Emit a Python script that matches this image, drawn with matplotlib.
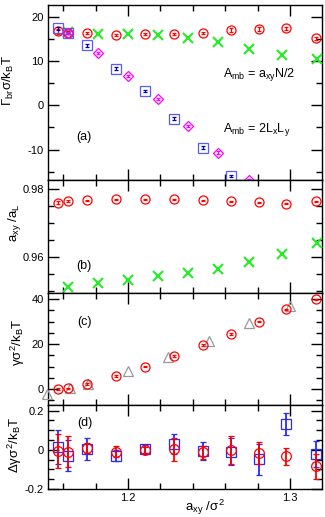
import numpy as np
import matplotlib
matplotlib.use("Agg")
import matplotlib.pyplot as plt
from matplotlib.ticker import MultipleLocator

plt.rcParams['font.family'] = ['Liberation Sans', 'DejaVu Sans']
plt.rcParams['mathtext.fontset'] = 'custom'
plt.rcParams['mathtext.rm'] = 'Liberation Sans'
plt.rcParams['mathtext.it'] = 'Liberation Sans'
plt.rcParams['mathtext.bf'] = 'Liberation Sans:bold'
plt.rcParams['axes.unicode_minus'] = False

# --- data ---
x_a = [1.1568, 1.1630, 1.1747, 1.1926, 1.2105, 1.2284, 1.2463, 1.2636, 1.2809, 1.2975, 1.3160]
x_b = [1.1630, 1.1815, 1.2000, 1.2185, 1.2370, 1.2556, 1.2750, 1.2951, 1.3167]
x_tri = [1.1498, 1.1642, 1.1755, 1.2000, 1.2249, 1.2502, 1.2749, 1.3000]

# (a) surface tension Gamma_br
gam_red = [16.75, 16.45, 16.45, 16.0, 16.2, 16.2, 16.4, 17.1, 17.2, 17.4, 15.2]
gam_red_err = [0.5, 0.3, 0.25, 0.25, 0.25, 0.25, 0.3, 0.45, 0.45, 0.4, 0.35]
gam_green = [16.5, 16.2, 16.1, 15.9, 15.2, 14.3, 12.75, 11.3, 10.4]
gam_blue = [17.4, 16.4, 13.6, 8.3, 3.25, -3.0, -9.55, -16.0]
gam_blue_err = [0.3, 0.3, 0.3, 0.3, 0.3, 0.3, 0.3, 0.3]
gam_mag = [16.4, 11.85, 6.6, 1.4, -4.7, -10.7, -16.9]
gam_mag_err = [0.3, 0.3, 0.3, 0.3, 0.3, 0.3, 0.3]

# (b) a_xy / a_L
ratio_red = [0.97596, 0.97645, 0.97665, 0.97695, 0.97704, 0.97704, 0.97675, 0.97645, 0.97616, 0.97567, 0.97645]
ratio_red_err = [0.0004, 0.0002, 0.00012, 0.00012, 0.00012, 0.00012, 0.00012, 0.00012, 0.00012, 0.00012, 0.00012]
ratio_green = [0.95113, 0.95212, 0.95310, 0.95429, 0.95527, 0.95645, 0.95833, 0.96079, 0.96394]

# (c) gamma
g_red = [0.0, 0.3, 2.2, 5.8, 9.9, 14.7, 19.6, 24.4, 29.9, 35.4, 39.9]
g_red_err = [0.3, 0.3, 0.3, 0.3, 0.3, 0.3, 0.3, 0.3, 0.3, 0.3, 0.3]
g_grey = [-2.4, 0.6, 2.4, 8.1, 14.1, 21.2, 29.2, 36.9]

# (d) Delta gamma
dg_red = [-0.005, -0.009, 0.009, -0.009, 0.0, 0.003, -0.012, 0.0, -0.017, -0.034, -0.085]
dg_red_err = [0.088, 0.079, 0.026, 0.03, 0.017, 0.06, 0.034, 0.07, 0.055, 0.045, 0.066]
dg_blue = [0.014, -0.029, 0.003, -0.029, 0.003, 0.029, -0.005, -0.009, -0.048, 0.132, -0.022]
dg_blue_err = [0.085, 0.079, 0.055, 0.03, 0.02, 0.05, 0.045, 0.07, 0.08, 0.056, 0.067]

RED = '#ff0000'
BLUE = '#2a2aff'
GREEN = '#22ee22'
MAG = '#ff00ff'
GREY = '#999999'

fig = plt.figure(figsize=(3.25, 5.17), dpi=100)
L, R = 48 / 325, 322 / 325
edges = [5, 180, 292.7, 405, 489]
axes = []
for i in range(4):
    top = 1 - edges[i] / 517
    bot = 1 - edges[i + 1] / 517
    axes.append(fig.add_axes([L, bot, R - L, top - bot]))
axA, axB, axC, axD = axes

for ax in axes:
    ax.set_xlim(1.1506, 1.3198)
    ax.xaxis.set_major_locator(MultipleLocator(0.1))
    ax.xaxis.set_minor_locator(MultipleLocator(0.02))
    ax.tick_params(which='both', direction='in', top=True, right=True,
                   labelsize=8, width=1.0, pad=3)
    ax.tick_params(which='major', length=8)
    ax.tick_params(which='minor', length=4.5)
    for s in ax.spines.values():
        s.set_linewidth(1.0)
    if ax is not axD:
        ax.tick_params(labelbottom=False)

ms = 6.5
kw_o = dict(fmt='o', mfc='none', ms=ms, mew=0.9, elinewidth=0.9, capsize=1.5, capthick=0.9)

# (a)
axA.plot(x_b, gam_green, 'x', color=GREEN, ms=7.5, mew=1.5, clip_on=False, zorder=3)
axA.errorbar(x_a, gam_red, yerr=gam_red_err, color=RED, mec=RED, clip_on=False, zorder=4, **kw_o)
axA.errorbar(x_a[:8], gam_blue, yerr=gam_blue_err, fmt='s', mfc='none', mec='#5a5aff', color='#0000cc',
             ms=ms, mew=0.9, elinewidth=0.9, capsize=1.5, clip_on=False, zorder=5)
axA.errorbar(x_b[:7], gam_mag, yerr=gam_mag_err, fmt='D', mfc='none', mec=MAG, color=MAG,
             ms=4.8, mew=0.9, elinewidth=0.9, capsize=1.5, clip_on=False, zorder=5)
axA.set_ylim(-16.9, 22.7)
axA.yaxis.set_major_locator(MultipleLocator(10))
axA.yaxis.set_minor_locator(MultipleLocator(5))
axA.text(0.102, 0.246, '(a)', transform=axA.transAxes, fontsize=9, va='center')
axA.text(0.639, 0.60, r'A$_{\rm mb}$ = a$_{\rm xy}$N/2', transform=axA.transAxes, fontsize=9, va='center')
axA.text(0.639, 0.286, r'A$_{\rm mb}$ = 2L$_{\rm x}$L$_{\rm y}$', transform=axA.transAxes, fontsize=9, va='center')

# (b)
axB.plot(x_b, ratio_green, 'x', color=GREEN, ms=7.5, mew=1.5, clip_on=False, zorder=3)
axB.errorbar(x_a, ratio_red, yerr=ratio_red_err, color=RED, mec=RED, zorder=4, **kw_o)
axB.set_ylim(0.9494, 0.9827)
axB.yaxis.set_major_locator(MultipleLocator(0.02))
axB.yaxis.set_minor_locator(MultipleLocator(0.005))
axB.yaxis.set_major_formatter(matplotlib.ticker.FormatStrFormatter('%.2f'))
axB.text(0.102, 0.237, '(b)', transform=axB.transAxes, fontsize=9, va='center')

# (c)
axC.plot(x_tri, g_grey, '^', mfc='none', mec=GREY, ms=6.5, mew=0.9, clip_on=False, zorder=3)
axC.errorbar(x_a, g_red, yerr=g_red_err, color=RED, mec=RED, clip_on=False, zorder=4, **kw_o)
axC.set_ylim(-7.1, 42.8)
axC.yaxis.set_major_locator(MultipleLocator(20))
axC.yaxis.set_minor_locator(MultipleLocator(5))
axC.text(0.106, 0.739, '(c)', transform=axC.transAxes, fontsize=9, va='center')

# (d)
axD.errorbar(x_a, dg_blue, yerr=dg_blue_err, fmt='s', mfc='none', mec=BLUE, color=BLUE,
             ms=7, mew=0.9, elinewidth=1.3, capsize=2, capthick=1.3, zorder=3)
axD.errorbar(x_a, dg_red, yerr=dg_red_err, fmt='o', mfc='none', mec=RED, color=RED,
             ms=7, mew=0.9, elinewidth=1.3, capsize=2, capthick=1.3, zorder=4)
axD.set_ylim(-0.2, 0.229)
axD.yaxis.set_major_locator(MultipleLocator(0.2))
axD.yaxis.set_minor_locator(MultipleLocator(0.05))
axD.yaxis.set_major_formatter(matplotlib.ticker.FuncFormatter(
    lambda v, p: '0' if abs(v) < 1e-9 else '%.1f' % v))
axD.text(0.106, 0.786, '(d)', transform=axD.transAxes, fontsize=9, va='center')

# axis labels
fig.text(0.025, 0.845, r'$\Gamma_{\rm br}\sigma$/k$_{\rm B}$T', rotation=90, fontsize=9.5, ha='center', va='center')
fig.text(0.044, 0.569, r'a$_{\rm xy}$ /a$_{\rm L}$', rotation=90, fontsize=9.5, ha='center', va='center')
fig.text(0.055, 0.338, r'$\gamma\sigma^2$/k$_{\rm B}$T', rotation=90, fontsize=9.5, ha='center', va='center')
fig.text(0.046, 0.139, r'$\Delta\gamma\sigma^2$/k$_{\rm B}$T', rotation=90, fontsize=9.5, ha='center', va='center')
fig.text(0.63, 0.018, r'a$_{\rm xy}$ /$\sigma^2$', fontsize=9.5, ha='center', va='center')

fig.savefig('out.png', dpi=100)
